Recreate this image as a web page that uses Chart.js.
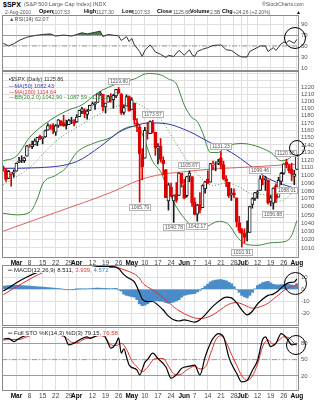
<!DOCTYPE html>
<html>
<head>
<meta charset="utf-8">
<title>$SPX daily</title>
<script src="https://cdn.jsdelivr.net/npm/chart.js@4.4.1/dist/chart.umd.min.js"></script>
<style>
  body { margin: 0; background: #fff; }
  #wrap { position: relative; width: 322px; height: 400px; overflow: hidden; font-family: Arial, "Liberation Sans", sans-serif; }
  canvas { position: absolute; left: 0; }
  .t { position: absolute; white-space: nowrap; line-height: 1; font-size: 5px; color: #555; }
  .b { font-weight: bold; color: #000; font-size: 5.5px; }
  .ring { position: absolute; border: 1px solid #000; border-radius: 50%; }
</style>
</head>
<body>
<div id="wrap">
  <canvas id="rsiChart" width="322" height="60" style="top:12px"></canvas>
  <canvas id="priceChart" width="322" height="196" style="top:71px"></canvas>
  <canvas id="macdChart" width="322" height="61" style="top:265px"></canvas>
  <canvas id="stoChart" width="322" height="73" style="top:327px"></canvas>

  <span class="t b" style="left:3px;top:0.5px;font-size:7px">$SPX</span>
  <span class="t" style="left:24px;top:1.5px;font-size:5.5px">(S&amp;P 500 Large Cap Index) INDX</span>
  <span class="t" style="left:262px;top:2px;font-size:5px">&reg;StockCharts.com</span>

  <span class="t" style="left:5px;top:9.5px">2-Aug-2010</span>
  <span class="t b" style="left:39px;top:9px">Open</span>
  <span class="t" style="left:52px;top:9.5px">1107.53</span>
  <span class="t b" style="left:84px;top:9px">High</span>
  <span class="t" style="left:96px;top:9.5px">1127.30</span>
  <span class="t b" style="left:122px;top:9px">Low</span>
  <span class="t" style="left:132px;top:9.5px">1107.53</span>
  <span class="t b" style="left:157px;top:9px">Close</span>
  <span class="t" style="left:173px;top:9.5px">1125.86</span>
  <span class="t b" style="left:190px;top:9px">Volume</span>
  <span class="t" style="left:210px;top:9.5px">2.5B</span>
  <span class="t b" style="left:222px;top:9px">Chg</span>
  <span class="t" style="left:233px;top:9.5px">+24.26 (+2.20%)</span>
  <span class="t" style="left:296px;top:9.5px;color:#000">&#9650;</span>

  <span class="t" style="left:9px;top:16.5px;font-size:5.5px"><span style="color:#3d6d3d">&#9650;</span>RSI(14) 62.07</span>

  <span class="t" style="left:9px;top:77px;font-size:5.5px;color:#333">&#9642;$SPX (Daily) 1125.86</span>
  <span class="t" style="left:9px;top:84px;font-size:5.5px;color:#3434b0">&#8212;MA(50) 1082.43</span>
  <span class="t" style="left:9px;top:89.5px;font-size:5.5px;color:#d83c3c">&#8212;MA(200) 1114.64</span>
  <span class="t" style="left:9px;top:95px;font-size:5.5px;color:#2f7f2f">&#8212;BB(20,2.0) 1042.90 - 1087.59 - 1132.28</span>

  <span class="t" style="left:8px;top:267px;font-size:6px;color:#222;background:#fff">&#9552; MACD(12,26,9) 8.511, <span style="color:#e03030">3.939</span>, <span style="color:#3a86c8">4.572</span></span>
  <span class="t" style="left:8px;top:329.5px;font-size:6px;color:#222;background:#fff">&#9552; Full STO %K(14,3) %D(3) 79.15, <span style="color:#e03030">76.58</span></span>

  <div class="ring" style="left:284px;top:27px;width:20px;height:20px"></div>
  <div class="ring" style="left:289px;top:140px;width:14px;height:14px"></div>
  <div class="ring" style="left:284px;top:272px;width:21px;height:21px"></div>
  <div class="ring" style="left:286px;top:335px;width:18px;height:18px"></div>
</div>

<script>
// trading days on the chart (Feb 22 - Aug 2, 2010)
const febDays = [22, 23, 24, 25, 26];
const marDays = [1, 2, 3, 4, 5, 8, 9, 10, 11, 12, 15, 16, 17, 18, 19, 22, 23, 24, 25, 26, 29, 30, 31];
const aprDays = [1, 5, 6, 7, 8, 9, 12, 13, 14, 15, 16, 19, 20, 21, 22, 23, 26, 27, 28, 29, 30];
const mayDays = [3, 4, 5, 6, 7, 10, 11, 12, 13, 14, 17, 18, 19, 20, 21, 24, 25, 26, 27, 28];
const junDays = [1, 2, 3, 4, 7, 8, 9, 10, 11, 14, 15, 16, 17, 18, 21, 22, 23, 24, 25, 28, 29, 30];
const julDays = [1, 2, 6, 7, 8, 9, 12, 13, 14, 15, 16, 19, 20, 21, 22, 23, 26, 27, 28, 29, 30];
const augDays = [2];
const dates = [].concat(
  febDays.map(d => 'Feb ' + d), marDays.map(d => 'Mar ' + d), aprDays.map(d => 'Apr ' + d),
  mayDays.map(d => 'May ' + d), junDays.map(d => 'Jun ' + d), julDays.map(d => 'Jul ' + d),
  augDays.map(d => 'Aug ' + d));

// x axis labels
const tickDates = ['Mar 1', 'Mar 8', 'Mar 15', 'Mar 22', 'Mar 29', 'Apr 1', 'Apr 12', 'Apr 19', 'Apr 26',
  'May 3', 'May 10', 'May 17', 'May 24', 'Jun 1', 'Jun 7', 'Jun 14', 'Jun 21', 'Jun 28',
  'Jul 1', 'Jul 6', 'Jul 12', 'Jul 19', 'Jul 26', 'Aug 2'];
const tickText = ['Mar', '8', '15', '22', '29', 'Apr', '12', '19', '26', 'May', '10', '17', '24',
  'Jun', '7', '14', '21', '28', 'Jul', '6', '12', '19', '26', 'Aug'];
const tickIdx = tickDates.map(d => dates.indexOf(d));

// OHLC
const prevClose = 1109.17;
const open = [1110.00, 1107.49, 1095.89, 1101.24, 1103.10,
  1105.36, 1117.01, 1119.36, 1119.12, 1125.12, 1138.40, 1137.56, 1140.22, 1143.96, 1151.71, 1148.53, 1150.83, 1159.94, 1166.13, 1166.68, 1157.25, 1166.47, 1172.70, 1170.03, 1167.58, 1167.71, 1173.75, 1171.75,
  1171.23, 1178.71, 1186.01, 1188.23, 1181.75, 1187.47, 1194.94, 1195.94, 1198.69, 1210.77, 1210.17, 1192.06, 1199.04, 1207.16, 1202.52, 1207.87, 1217.07, 1209.92, 1184.59, 1193.30, 1206.77,
  1188.58, 1197.50, 1169.24, 1164.38, 1127.04, 1122.27, 1156.39, 1155.43, 1170.04, 1157.19, 1136.52, 1138.78, 1119.57, 1107.34, 1067.26, 1084.78, 1067.42, 1075.51, 1074.27, 1102.59,
  1087.30, 1073.89, 1098.82, 1098.43, 1065.84, 1050.81, 1062.75, 1058.77, 1082.65, 1095.00, 1091.21, 1114.02, 1115.98, 1116.16, 1122.79, 1113.90, 1095.57, 1090.93, 1075.10, 1077.50, 1071.10, 1040.56,
  1031.10, 1027.65, 1028.09, 1028.54, 1062.92, 1070.50, 1077.23, 1080.65, 1095.61, 1094.46, 1093.85, 1066.85, 1064.53, 1086.67, 1072.14, 1092.17, 1102.89, 1117.36, 1112.84, 1108.07, 1098.44,
  1107.53];
const high = [1112.29, 1108.58, 1106.42, 1103.50, 1107.24,
  1116.11, 1123.46, 1125.64, 1123.73, 1139.38, 1141.05, 1145.37, 1148.26, 1150.24, 1153.41, 1150.98, 1160.28, 1169.20, 1167.77, 1169.20, 1167.82, 1174.72, 1173.04, 1180.69, 1173.93, 1174.85, 1177.83, 1174.56,
  1181.43, 1187.73, 1191.80, 1189.60, 1188.55, 1194.66, 1199.20, 1199.04, 1210.65, 1213.92, 1210.17, 1197.87, 1208.58, 1210.99, 1210.27, 1217.28, 1219.80, 1211.38, 1195.05, 1209.36, 1207.99,
  1205.13, 1197.50, 1175.95, 1167.58, 1135.13, 1163.85, 1170.48, 1172.87, 1173.57, 1157.19, 1141.88, 1148.66, 1124.27, 1107.34, 1090.16, 1089.95, 1074.75, 1090.75, 1103.52, 1102.59,
  1094.77, 1098.56, 1105.67, 1098.43, 1071.36, 1063.15, 1077.74, 1087.85, 1092.25, 1105.91, 1115.59, 1118.74, 1117.72, 1121.01, 1131.23, 1118.50, 1099.64, 1090.93, 1083.11, 1082.60, 1071.10, 1048.08,
  1033.58, 1032.95, 1042.50, 1060.89, 1071.25, 1078.16, 1080.78, 1099.46, 1099.08, 1098.66, 1093.85, 1074.70, 1083.94, 1088.96, 1097.50, 1103.73, 1115.01, 1120.95, 1114.66, 1115.90, 1106.44,
  1127.30];
const low = [1105.38, 1092.18, 1095.50, 1086.02, 1097.56,
  1105.36, 1116.51, 1116.58, 1116.66, 1125.12, 1136.77, 1134.90, 1140.09, 1138.99, 1146.97, 1141.45, 1150.35, 1159.94, 1161.16, 1155.33, 1152.88, 1163.83, 1166.01, 1165.09, 1161.48, 1167.71, 1168.92, 1165.77,
  1170.69, 1178.71, 1182.77, 1177.25, 1175.12, 1187.15, 1194.71, 1188.82, 1198.69, 1208.50, 1186.77, 1183.68, 1199.04, 1198.85, 1190.19, 1205.10, 1211.07, 1181.62, 1181.81, 1193.30, 1186.32,
  1188.58, 1168.12, 1158.15, 1065.79, 1094.15, 1122.27, 1147.71, 1155.43, 1156.14, 1126.14, 1114.96, 1117.20, 1100.66, 1071.58, 1055.90, 1072.70, 1040.78, 1065.59, 1074.27, 1084.78,
  1069.89, 1072.03, 1091.81, 1060.50, 1049.86, 1042.17, 1052.25, 1058.77, 1077.12, 1089.03, 1091.21, 1107.13, 1105.87, 1113.93, 1108.24, 1094.18, 1085.31, 1071.60, 1067.89, 1071.45, 1035.18, 1028.33,
  1010.91, 1015.93, 1018.35, 1028.54, 1058.24, 1068.10, 1070.45, 1080.65, 1087.68, 1080.53, 1063.32, 1061.11, 1056.88, 1065.25, 1072.14, 1087.88, 1101.30, 1109.78, 1103.11, 1092.82, 1088.01,
  1107.53];
const close = [1108.01, 1094.60, 1105.24, 1102.94, 1104.49,
  1115.71, 1118.31, 1118.79, 1122.97, 1138.70, 1138.50, 1140.45, 1145.61, 1150.24, 1149.99, 1150.51, 1159.46, 1166.21, 1165.83, 1159.90, 1165.81, 1174.17, 1167.72, 1165.73, 1166.59, 1173.22, 1173.27, 1169.43,
  1178.10, 1187.44, 1189.44, 1182.45, 1186.44, 1194.37, 1196.48, 1197.30, 1210.65, 1211.67, 1192.13, 1197.52, 1207.17, 1205.94, 1208.67, 1217.28, 1212.05, 1183.71, 1191.36, 1206.78, 1186.69,
  1202.26, 1173.60, 1165.87, 1128.15, 1110.88, 1159.73, 1155.79, 1171.67, 1157.44, 1135.68, 1136.94, 1120.80, 1115.05, 1071.59, 1087.69, 1073.65, 1074.03, 1067.95, 1103.06, 1089.41,
  1070.71, 1098.38, 1102.83, 1064.88, 1050.47, 1062.00, 1055.69, 1086.84, 1091.60, 1089.63, 1115.23, 1114.61, 1116.04, 1117.51, 1113.20, 1095.31, 1092.04, 1073.69, 1076.76, 1074.57, 1041.24, 1030.71,
  1027.37, 1022.58, 1028.06, 1060.27, 1070.25, 1077.96, 1078.75, 1095.34, 1095.17, 1096.48, 1064.88, 1071.25, 1083.48, 1069.59, 1093.67, 1102.66, 1115.01, 1113.84, 1106.13, 1101.53, 1101.60,
  1125.86];

// overlays (bar index, value)
const ma50Idx = [0, 14, 28, 37, 44, 50, 56, 62, 71, 79, 87, 94, 101, 112];
const ma50Val = [1109, 1110, 1118, 1138, 1157, 1166, 1170, 1169, 1158, 1143, 1130, 1113, 1096, 1082.4];
const ma200Idx = [0, 20, 41, 52, 60, 70, 79, 95, 112];
const ma200Val = [1030, 1053, 1078, 1094, 1101, 1105, 1108, 1111, 1114.6];
const bbUpIdx = [0, 5, 10, 18, 25, 30, 36, 40, 45, 50, 55, 60, 63, 66, 69, 72, 74, 76, 79, 82, 85, 91, 96, 102, 106, 109, 112];
const bbUpVal = [1119, 1125, 1150, 1174, 1188, 1195, 1212, 1220, 1227, 1232, 1240, 1238, 1232, 1225, 1195, 1177, 1172, 1157, 1130, 1130, 1138, 1142, 1139, 1130, 1119, 1122, 1132.3];
const bbMidIdx = [0, 10, 20, 30, 40, 50, 56, 60, 65, 70, 75, 80, 85, 90, 95, 100, 105, 110, 112];
const bbMidVal = [1088, 1110, 1145, 1168, 1188, 1198, 1186, 1175, 1147, 1120, 1098, 1087, 1090, 1085, 1076, 1075, 1067, 1077, 1087.6];
const bbLowIdx = [0, 5, 10, 13, 15, 20, 24, 28, 35, 41, 45, 49, 52, 54, 57, 60, 63, 66, 69, 72, 75, 78, 82, 86, 89, 92, 97, 102, 108, 110, 112];
const bbLowVal = [1052, 1050, 1053, 1070, 1089, 1100, 1110, 1130, 1143, 1150, 1160, 1165, 1162, 1145, 1118, 1105, 1080, 1060, 1046, 1036, 1032, 1036, 1042, 1038, 1024, 1015, 1013, 1016, 1018, 1025, 1042.9];

// labelled highs / lows
const noteIdx = [44, 52, 57, 65, 71, 74, 83, 91, 98, 103, 108, 111];
const noteSide = ['high', 'low', 'high', 'low', 'high', 'low', 'high', 'low', 'high', 'low', 'high', 'low'];

// RSI(14)
const rsiIdx = [0, 2, 4, 6, 9, 12, 15, 18, 20, 23, 26, 28, 30, 32, 35, 37, 38, 40, 43, 44, 45, 47, 48, 49, 50, 52, 53, 54, 56, 57, 58, 60, 62, 63, 65, 67, 68, 69, 71, 72, 73, 74, 76, 78, 80, 83, 84, 85, 87, 89, 90, 91, 93, 94, 96, 98, 100, 101, 103, 104, 106, 107, 108, 109, 111, 112];
const rsiVal = [55, 50, 54, 60, 66, 69, 71, 72, 68, 70, 68, 71, 74, 72, 75, 77, 67, 71, 69, 68, 60, 67, 58, 64, 52, 40, 31, 42, 52, 46, 39, 35, 29, 33, 31, 42, 38, 33, 43, 34, 31, 40, 44, 47, 51, 52, 48, 43, 42, 35, 32, 30, 30, 40, 45, 50, 50, 40, 47, 42, 54, 57, 56, 60, 55, 62.07];
const rsiLevels = [30, 50, 70];
const rsiTicks = [10, 30, 50, 70, 90];

// MACD(12,26,9)
const macdIdx = [0, 3, 6, 9, 12, 15, 18, 21, 24, 27, 30, 33, 36, 39, 42, 44, 46, 48, 50, 52, 53, 55, 57, 59, 61, 63, 65, 67, 69, 71, 73, 75, 77, 79, 81, 83, 85, 87, 89, 91, 93, 95, 97, 99, 101, 103, 105, 107, 109, 111, 112];
const macdVal = [-1.5, 2.5, 6.5, 10, 13, 15.5, 17, 17, 16.5, 16.5, 17, 17.5, 18.5, 18.5, 18.5,
  17, 12, 9, 6, -3, -8, -10, -10, -13, -17, -22, -25, -26, -25, -26, -27, -25, -21, -16, -12,
  -8.5, -6.5, -7, -11, -17, -21, -18, -12, -8, -5, -4, -1, 3, 5.5, 6, 8.511];
const signalVal = [-4.5, -0.5, 3.3, 7, 10.6, 13.6, 15.8, 16.4, 16.5, 16.5, 16.8, 17, 17.5, 17.8, 18,
  17.5, 16, 14.5, 12.5, 9, 5.5, 2, -0.5, -3.5, -7, -10.5, -14.5, -17.5, -20, -22, -23.5, -24, -23.5, -22, -19.5,
  -16.5, -13.5, -11.5, -11, -12, -14, -15.5, -15, -13.5, -11.5, -8, -4.5, -1, 1.5, 3, 3.939];
const histVal = [2.5, 2.8, 3.0, 3.2, 3.3, 3.3, 3.2, 3.0, 2.8, 2.8,
  2.6, 2.4, 2.2, 2.0, 1.9, 1.8, 1.6, 1.4, 1.2, 1.0,
  0.8, 0.6, 0.3, 0.0, -0.2, -0.4, -0.3, -0.1, 0.1, 0.2,
  0.3, 0.3, 0.4, 0.5, 0.7, 0.9, 1.0, 0.9, 0.7, 0.7,
  0.6, 0.5, 0.6, 0.8, -0.5, -1.5, -4.0, -5.0, -5.5, -6.0,
  -6.5, -8.5, -12.0, -13.5, -13.0, -12.0, -10.5, -9.5, -9.5, -9.5,
  -9.8, -10.0, -11.0, -11.5, -11.0, -10.5, -9.5, -8.5, -6.5, -5.0,
  -4.5, -4.0, -3.8, -3.5, -2.2, -1.0, 0.8, 2.5, 4.2, 6.0,
  7.0, 7.5, 7.8, 8.0, 7.5, 7.0, 5.8, 4.5, 2.2, 0.0,
  -2.5, -5.0, -6.2, -7.0, -5.0, -2.5, 0.3, 3.0, 4.2, 5.5,
  6.0, 6.5, 5.2, 4.0, 3.7, 3.5, 3.8, 4.0, 4.0, 4.0,
  3.5, 3.0, 4.572];
const macdTicks = [-20, -10, 0, 10];

// Full STO %K(14,3) %D(3)
const stoKIdx = [0, 2, 4, 6, 9, 13, 16, 19, 23, 25, 27, 29, 32, 33, 36, 38, 40, 41, 43, 44, 45, 46, 47, 48, 51, 52, 54, 55, 57, 59, 62, 64, 66, 68, 71, 73, 75, 77, 79, 80, 82, 84, 86, 87, 89, 91, 93, 95, 97, 99, 100, 102, 104, 106, 108, 109, 110, 112];
const stoKVal = [88, 89, 83, 89, 95, 98, 96, 95, 95, 77, 80, 86, 92, 89, 95, 98, 80, 71, 80, 90, 62, 70, 55, 40, 31, 22, 45, 50, 62, 52, 37, 16, 22, 34, 38, 40, 22, 55, 80, 89, 98, 92, 55, 43, 25, 9, 12, 30, 49, 88, 92, 74, 80, 98, 90, 83, 77, 79.15];
const stoDIdx = [0, 3, 6, 9, 13, 17, 21, 24, 26, 28, 31, 34, 37, 39, 41, 43, 45, 47, 49, 51, 53, 55, 58, 61, 63, 65, 67, 70, 73, 75, 77, 79, 81, 83, 85, 87, 89, 91, 93, 95, 97, 99, 101, 103, 105, 107, 109, 111, 112];
const stoDVal = [86, 87, 87, 92, 97, 96, 95, 90, 82, 81, 88, 91, 94, 90, 77, 76, 80, 69, 48, 37, 28, 36, 52, 52, 38, 24, 22, 31, 38, 33, 36, 60, 86, 94, 82, 60, 40, 20, 12, 20, 42, 75, 86, 78, 85, 92, 90, 80, 76.58];
const stoLevels = [20, 50, 80];
const stoTicks = [20, 50, 80];

const priceTicks = [1010, 1020, 1030, 1040, 1050, 1060, 1070, 1080, 1090, 1100, 1110, 1120, 1130,
  1140, 1150, 1160, 1170, 1180, 1190, 1200, 1210, 1220, 1230, 1240];

// ------------------------------------------------------------------
Chart.defaults.animation = false;
Chart.defaults.responsive = false;
Chart.defaults.font.family = 'Arial, "Liberation Sans", sans-serif';
Chart.defaults.font.size = 6;
Chart.defaults.plugins.legend.display = false;
Chart.defaults.plugins.tooltip.enabled = false;

const xMin = -0.5, xMax = 112.8;
const pts = (ix, vals) => ix.map((x, k) => ({ x: x, y: vals[k] }));
const isMonth = i => /^[A-Z]/.test(tickText[i] || '');

function xAxis(showLabels) {
  return {
    type: 'linear', min: xMin, max: xMax, offset: false, bounds: 'data',
    afterBuildTicks: s => { s.ticks = tickIdx.map(v => ({ value: v })); },
    afterFit: s => { s.height = showLabels ? 9 : 0; s.paddingLeft = 0; s.paddingRight = 0; },
    grid: { color: '#e0e0e0', drawTicks: false, offset: false },
    border: { display: false },
    ticks: {
      display: showLabels, autoSkip: false, maxRotation: 0, minRotation: 0, padding: 1,
      callback: (v, i) => tickText[i],
      color: c => isMonth(c.index) ? '#000' : '#444',
      font: c => ({ size: 6.5, weight: isMonth(c.index) ? 'bold' : 'normal' })
    }
  };
}

function yAxis(type, min, max, ticks, gridColor, label) {
  return {
    type: type, position: 'right', min: min, max: max, bounds: 'data',
    afterBuildTicks: s => { s.ticks = ticks.map(v => ({ value: v })); },
    afterFit: s => { s.width = 23; s.paddingTop = 0; s.paddingBottom = 0; },
    grid: { color: gridColor || '#e0e0e0', drawTicks: false },
    border: { display: false },
    ticks: { padding: 2, color: '#555', autoSkip: false, font: { size: 6 }, callback: label || (v => v) }
  };
}

function levelLine(v) {
  return {
    type: 'line', data: [{ x: xMin, y: v }, { x: xMax, y: v }],
    borderColor: '#9a9a9a', borderWidth: 1, borderDash: [5, 2, 1, 2], pointRadius: 0, order: 9
  };
}

const frame = {
  id: 'frame',
  afterDraw(chart) {
    const a = chart.chartArea, g = chart.ctx;
    g.save();
    g.strokeStyle = '#8a8a8a';
    g.lineWidth = 1;
    g.strokeRect(a.left + 0.5, a.top + 0.5, a.width - 1, a.height - 1);
    g.restore();
  }
};

const priceNotes = {
  id: 'priceNotes',
  afterDatasetsDraw(chart) {
    const g = chart.ctx, a = chart.chartArea, xs = chart.scales.x, ys = chart.scales.y;
    g.save();
    g.font = '5px Arial, "Liberation Sans", sans-serif';
    g.textBaseline = 'middle';
    noteIdx.forEach((i, k) => {
      const up = noteSide[k] === 'high';
      const v = up ? high[i] : low[i];
      const txt = v.toFixed(2);
      const w = Math.round(g.measureText(txt).width) + 4, h = 7;
      const px = xs.getPixelForValue(i), py = ys.getPixelForValue(v);
      const bx = Math.round(Math.min(Math.max(px - w / 2, a.left + 1), a.right - w - 1));
      const by = Math.round(up ? py - h - 2 : py + 2);
      g.fillStyle = '#fff';
      g.fillRect(bx, by, w, h);
      g.strokeStyle = '#b4b4b4';
      g.lineWidth = 1;
      g.strokeRect(bx + 0.5, by + 0.5, w - 1, h - 1);
      g.fillStyle = '#555';
      g.fillText(txt, bx + 2, by + h / 2 + 0.5);
    });
    g.restore();
  }
};

// candle colours: red when the close is below the previous close, hollow when close > open
const candleColor = close.map((c, i) => c < (i ? close[i - 1] : prevClose) ? '#e00000' : '#1a1a1a');
const candleFill = close.map((c, i) => c < open[i] ? candleColor[i] : '#ffffff');

// RSI panel
const rsiChart = new Chart('rsiChart', {
  type: 'line',
  data: {
    datasets: [
      {
        data: pts(rsiIdx, rsiVal), borderColor: '#333', borderWidth: 1, pointRadius: 0, order: 1,
        fill: { target: { value: rsiLevels[2] }, above: '#4f7d4f', below: 'rgba(0,0,0,0)' }
      },
      levelLine(rsiLevels[1])
    ]
  },
  options: {
    layout: { padding: { left: 2, right: 0, top: 3, bottom: 1 } },
    scales: {
      x: xAxis(false),
      y: yAxis('linear', 4.5, 106.4, rsiTicks,
        c => (c.tick && (c.tick.value === rsiLevels[0] || c.tick.value === rsiLevels[2])) ? '#9a9a9a' : '#e0e0e0')
    }
  },
  plugins: [frame]
});

// price panel
const priceChart = new Chart('priceChart', {
  type: 'bar',
  data: {
    datasets: [
      {
        type: 'bar', data: close.map((c, i) => ({ x: i, y: [open[i], c] })),
        backgroundColor: candleFill, borderColor: candleColor, borderWidth: 1, borderSkipped: false,
        barThickness: 3, grouped: false, order: 0
      },
      {
        type: 'bar', data: high.map((h, i) => ({ x: i, y: [low[i], h] })),
        backgroundColor: candleColor, borderWidth: 0, barThickness: 1, grouped: false, order: 1
      },
      { type: 'line', data: pts(ma50Idx, ma50Val), borderColor: '#3434b0', borderWidth: 1, pointRadius: 0, cubicInterpolationMode: 'monotone', order: 2 },
      { type: 'line', data: pts(ma200Idx, ma200Val), borderColor: '#e06060', borderWidth: 1, pointRadius: 0, cubicInterpolationMode: 'monotone', order: 2 },
      { type: 'line', data: pts(bbUpIdx, bbUpVal), borderColor: '#3c8a3c', borderWidth: 1, pointRadius: 0, cubicInterpolationMode: 'monotone', order: 3 },
      { type: 'line', data: pts(bbMidIdx, bbMidVal), borderColor: '#4a9a4a', borderWidth: 1, borderDash: [1, 2], pointRadius: 0, cubicInterpolationMode: 'monotone', order: 3 },
      { type: 'line', data: pts(bbLowIdx, bbLowVal), borderColor: '#3c8a3c', borderWidth: 1, pointRadius: 0, cubicInterpolationMode: 'monotone', order: 3 }
    ]
  },
  options: {
    layout: { padding: { left: 2, right: 0, top: 0, bottom: 0 } },
    scales: {
      x: xAxis(true),
      y: yAxis('logarithmic', 998, 1243.7, priceTicks, null, v => v > 1220 ? '' : String(v))
    }
  },
  plugins: [frame, priceNotes]
});

// MACD panel
const macdChart = new Chart('macdChart', {
  type: 'bar',
  data: {
    datasets: [
      { type: 'line', data: pts(macdIdx, macdVal), borderColor: '#000', borderWidth: 1.2, pointRadius: 0, cubicInterpolationMode: 'monotone', order: 0 },
      { type: 'line', data: pts(macdIdx, signalVal), borderColor: '#e03030', borderWidth: 1, pointRadius: 0, cubicInterpolationMode: 'monotone', order: 1 },
      {
        type: 'bar', data: histVal.map((v, i) => ({ x: i, y: v })),
        backgroundColor: '#4a8cc8', borderWidth: 0, barPercentage: 1, categoryPercentage: 1, order: 2
      }
    ]
  },
  options: {
    layout: { padding: { left: 2, right: 0, top: 0, bottom: 0 } },
    scales: {
      x: xAxis(false),
      y: yAxis('linear', -30.1, 19.9, macdTicks)
    }
  },
  plugins: [frame]
});

// Full stochastics panel
const stoChart = new Chart('stoChart', {
  type: 'line',
  data: {
    datasets: [
      { data: pts(stoKIdx, stoKVal), borderColor: '#000', borderWidth: 1.2, pointRadius: 0, cubicInterpolationMode: 'monotone', order: 0 },
      { data: pts(stoDIdx, stoDVal), borderColor: '#e03030', borderWidth: 1, pointRadius: 0, cubicInterpolationMode: 'monotone', order: 1 },
      levelLine(stoLevels[1])
    ]
  },
  options: {
    layout: { padding: { left: 2, right: 0, top: 0, bottom: 0 } },
    scales: {
      x: xAxis(true),
      y: yAxis('linear', -7.6, 110, stoTicks,
        c => (c.tick && (c.tick.value === stoLevels[0] || c.tick.value === stoLevels[2])) ? '#9a9a9a' : '#e0e0e0')
    }
  },
  plugins: [frame]
});
</script>
</body>
</html>
